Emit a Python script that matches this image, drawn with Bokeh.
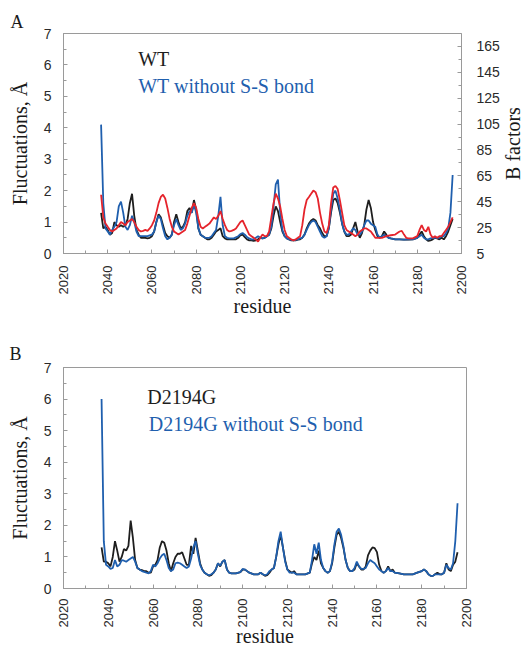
import math
from bokeh.plotting import figure
from bokeh.models import (Range1d, LinearAxis, FixedTicker, SingleIntervalTicker, Label)
from bokeh.layouts import row
from bokeh.embed import file_html
from bokeh.resources import INLINE

# ---------------- Panel A data ----------------
wt_res = [2037,2038,2039,2040,2041,2042,2043,2044,2045,2046,2047,2048,2049,2050,2051,2052,2053,2054,2055,2056,
          2057,2058,2059,2060,2061,2062,2063,2064,2065,2066,2067,2068,2069,2070,2071,2072,2073,2074,2075,2076,
          2077,2078,2079,2080,2081,2082,2083,2084,2085,2086,2087,2088,2089,2090,2091,2092,2093,2094,2095,2096,
          2097,2098,2099,2100,2101,2102,2103,2104,2105,2106,2107,2108,2109,2110,2111,2112,2113,2114,2115,2116,
          2117,2118,2119,2120,2121,2122,2123,2124,2125,2126,2127,2128,2129,2130,2131,2132,2133,2134,2135,2136,
          2137,2138,2139,2140,2141,2142,2143,2144,2145,2146,2147,2148,2149,2150,2151,2152,2153,2154,2155,2156,
          2157,2158,2159,2160,2161,2162,2163,2164,2165,2166,2167,2168,2170,2172,2174,2176,2178,2180,2181,2182,
          2183,2184,2185,2186,2187,2188,2189,2190,2191,2192,2193,2194,2195,2196]
wt_fluct = [1.29,0.8,0.85,0.75,0.6,0.65,1.0,0.9,0.85,0.9,0.85,0.9,1.1,1.6,1.9,1.2,0.75,0.6,0.5,0.5,
            0.5,0.48,0.5,0.55,0.7,1.0,1.25,1.15,0.9,0.65,0.55,0.5,0.6,1.0,1.25,1.0,0.8,0.85,1.0,1.35,
            1.45,1.3,1.7,1.4,0.8,0.6,0.55,0.5,0.45,0.45,0.5,0.6,0.7,0.75,0.8,0.55,0.48,0.45,0.45,0.45,
            0.45,0.45,0.5,0.58,0.6,0.52,0.45,0.42,0.42,0.4,0.42,0.45,0.5,0.48,0.5,0.55,0.6,0.8,1.2,1.5,
            1.35,1.0,0.7,0.55,0.48,0.45,0.42,0.42,0.42,0.44,0.45,0.5,0.6,0.8,0.95,1.05,1.1,1.05,0.9,0.8,
            0.65,0.55,0.55,0.8,1.3,1.7,1.75,1.6,1.3,0.95,0.7,0.55,0.55,0.6,0.8,1.0,0.7,0.5,0.65,0.9,
            1.4,1.7,1.45,1.0,0.75,0.55,0.5,0.55,0.7,0.6,0.5,0.48,0.45,0.45,0.44,0.44,0.45,0.5,0.6,0.7,
            0.55,0.45,0.4,0.42,0.45,0.5,0.48,0.45,0.5,0.45,0.55,0.7,0.9,1.1]

wtss_res = [2037,2038,2039,2040,2041,2042,2043,2044,2045,2046,2047,2048,2049,2050,2051,2052,2053,2054,2055,2056,
            2058,2060,2061,2062,2063,2064,2065,2066,2067,2068,2069,2070,2071,2072,2073,2074,2075,2076,2077,2078,
            2079,2080,2081,2082,2083,2084,2085,2086,2087,2088,2089,2090,2091,2092,2093,2094,2095,2097,2099,2100,
            2101,2102,2103,2104,2105,2106,2107,2108,2109,2110,2111,2112,2113,2114,2115,2116,2117,2118,2119,2120,
            2121,2122,2124,2126,2127,2128,2129,2130,2131,2132,2133,2134,2135,2136,2137,2138,2139,2140,2141,2142,
            2143,2144,2145,2146,2147,2148,2149,2150,2151,2152,2153,2154,2155,2156,2157,2158,2159,2160,2161,2162,
            2163,2164,2165,2166,2167,2168,2170,2172,2174,2176,2178,2180,2181,2182,2183,2184,2185,2186,2188,2190,
            2191,2192,2193,2194,2195,2196]
wtss_fluct = [4.1,1.6,0.8,0.7,0.6,0.75,0.85,1.0,1.5,1.65,1.3,0.85,0.75,0.9,1.2,1.0,0.7,0.55,0.55,0.55,
              0.55,0.6,0.7,1.0,1.2,1.1,0.8,0.55,0.45,0.5,0.6,0.9,1.1,0.9,0.75,0.8,0.95,1.2,1.35,1.3,
              1.55,1.3,0.8,0.6,0.55,0.5,0.5,0.5,0.55,0.65,0.75,1.2,1.8,0.9,0.55,0.5,0.48,0.48,0.55,0.62,
              0.65,0.6,0.52,0.48,0.45,0.45,0.5,0.55,0.5,0.48,0.5,0.55,0.6,0.85,1.5,2.2,2.35,1.3,0.75,0.55,
              0.48,0.45,0.42,0.45,0.48,0.5,0.6,0.75,0.9,1.0,1.05,1.0,0.85,0.7,0.55,0.5,0.55,0.8,1.4,1.9,
              2.0,1.75,1.4,0.95,0.7,0.6,0.6,0.7,0.8,0.75,0.6,0.6,0.7,0.9,1.05,1.05,0.95,0.9,0.85,0.6,
              0.5,0.55,0.6,0.55,0.5,0.48,0.45,0.45,0.44,0.45,0.45,0.5,0.55,0.6,0.5,0.45,0.45,0.48,0.5,0.5,
              0.55,0.55,0.65,0.8,1.3,2.5]

bf_res = [2037,2038,2039,2040,2041,2042,2043,2044,2045,2046,2047,2048,2049,2050,2051,2052,2053,2054,2055,2056,
          2057,2058,2059,2060,2061,2062,2063,2064,2065,2066,2067,2068,2069,2070,2071,2072,2073,2074,2075,2076,
          2077,2078,2079,2080,2081,2082,2083,2084,2085,2086,2087,2088,2089,2090,2091,2092,2093,2094,2095,2096,
          2097,2098,2099,2100,2101,2102,2103,2104,2105,2106,2107,2108,2109,2110,2111,2112,2113,2114,2115,2116,
          2117,2118,2119,2120,2121,2122,2123,2124,2125,2126,2127,2128,2129,2130,2131,2132,2133,2134,2135,2136,
          2137,2138,2139,2140,2141,2142,2143,2144,2145,2146,2147,2148,2149,2150,2151,2152,2153,2154,2155,2156,
          2157,2158,2159,2160,2161,2162,2164,2166,2168,2170,2171,2172,2173,2174,2175,2176,2178,2180,2181,2182,
          2183,2184,2185,2186,2187,2188,2189,2190,2191,2192,2193,2194,2195,2196]
bfactor = [50.4,32.9,28.1,25.6,23.2,22.0,23.2,24.4,26.9,29.3,28.1,26.9,29.3,30.5,31.7,29.3,25.6,23.2,22.0,22.5,
           23.2,22.5,24.4,26.9,30.5,36.6,43.9,48.7,50.4,47.5,40.2,31.7,25.6,22.0,20.8,19.6,20.8,22.0,23.2,28.1,
           34.1,40.2,43.9,40.2,31.7,25.6,24.4,25.6,26.9,28.1,30.5,32.9,31.7,34.1,37.8,31.7,26.9,23.2,22.0,22.5,
           23.2,24.4,26.9,29.3,30.5,26.9,23.2,19.6,18.4,17.1,15.9,14.2,17.1,19.6,18.4,18.4,22.0,32.9,43.9,51.2,
           47.5,41.4,31.7,23.2,18.4,17.1,15.9,15.2,15.9,17.1,18.4,26.9,39.0,46.3,48.7,51.2,53.6,52.4,47.5,36.6,
           28.1,22.0,20.8,26.9,43.9,56.0,57.2,54.8,46.3,36.6,26.9,23.2,22.0,20.8,19.6,18.4,19.6,22.0,23.2,24.4,
           24.4,23.2,22.0,19.6,17.1,17.1,17.1,18.4,19.1,19.6,20.8,22.0,22.5,19.6,17.1,16.7,16.7,18.4,23.2,26.9,
           23.2,22.0,25.6,19.6,17.1,18.4,17.1,18.4,18.4,20.8,23.2,25.6,29.3,32.9]

# ---------------- Panel B data ----------------
mut_res = [2037,2038,2039,2040,2041,2042,2043,2044,2045,2046,2047,2048,2049,2050,2051,2052,2053,2054,2055,2056,
           2057,2058,2059,2060,2061,2062,2063,2064,2065,2066,2067,2068,2069,2070,2071,2072,2073,2074,2075,2076,
           2077,2078,2079,2080,2081,2082,2083,2084,2085,2086,2087,2088,2089,2090,2091,2092,2093,2094,2095,2097,
           2099,2100,2101,2102,2103,2105,2107,2108,2109,2110,2111,2112,2113,2114,2115,2116,2117,2118,2119,2120,
           2121,2122,2123,2124,2126,2128,2130,2131,2132,2133,2134,2135,2136,2137,2138,2139,2140,2141,2142,2143,
           2144,2145,2146,2147,2148,2149,2150,2151,2152,2153,2154,2155,2156,2157,2158,2159,2160,2161,2162,2163,
           2164,2165,2166,2167,2168,2170,2172,2174,2176,2178,2180,2181,2182,2183,2184,2185,2186,2187,2188,2189,
           2190,2191,2192,2193,2194,2195,2196]
mut_fluct = [1.3,0.85,0.85,0.8,0.7,1.0,1.5,1.2,0.85,1.0,1.25,1.2,1.35,2.15,1.6,0.9,0.65,0.6,0.58,0.55,
             0.55,0.5,0.5,0.7,0.75,0.9,1.3,1.5,1.45,1.2,0.8,0.55,0.8,1.0,1.1,1.1,1.15,0.95,0.75,0.75,
             1.35,1.1,1.6,1.2,0.8,0.6,0.5,0.45,0.4,0.42,0.5,0.6,0.8,0.7,0.85,0.9,0.6,0.5,0.48,0.48,
             0.52,0.6,0.6,0.55,0.5,0.45,0.45,0.5,0.45,0.4,0.42,0.5,0.6,0.65,1.0,1.4,1.7,1.3,0.9,0.6,
             0.55,0.5,0.55,0.45,0.45,0.45,0.5,0.8,1.0,0.9,1.2,0.8,0.65,0.55,0.5,0.55,0.8,1.3,1.7,1.8,
             1.6,1.3,0.9,0.65,0.55,0.55,0.6,0.8,0.7,0.6,0.6,0.7,1.05,1.2,1.3,1.28,1.15,0.75,0.55,0.5,
             0.55,0.7,0.55,0.6,0.5,0.48,0.45,0.45,0.45,0.5,0.55,0.6,0.55,0.45,0.4,0.4,0.45,0.5,0.45,0.45,
             0.5,0.8,0.6,0.55,0.75,0.85,1.15]

mutss_res = [2037,2038,2039,2040,2041,2042,2043,2044,2045,2046,2047,2048,2049,2050,2051,2052,2053,2054,2055,2057,
             2058,2059,2060,2061,2062,2063,2064,2065,2066,2067,2068,2069,2070,2071,2072,2073,2074,2075,2076,2077,
             2078,2079,2080,2081,2082,2083,2084,2085,2086,2087,2088,2089,2090,2091,2092,2093,2094,2095,2097,2099,
             2100,2101,2102,2103,2105,2107,2108,2109,2110,2111,2112,2113,2114,2115,2116,2117,2118,2119,2120,2121,
             2122,2123,2124,2126,2128,2130,2131,2132,2133,2134,2135,2136,2137,2138,2139,2140,2141,2142,2143,2144,
             2145,2146,2147,2148,2149,2150,2151,2152,2153,2154,2155,2156,2157,2158,2159,2160,2161,2162,2163,2164,
             2165,2166,2167,2168,2170,2172,2174,2176,2178,2180,2181,2182,2183,2184,2185,2186,2187,2188,2189,2190,
             2191,2192,2193,2194,2195,2196]
mutss_fluct = [6.0,1.5,0.75,0.7,0.62,0.65,0.9,0.7,0.75,0.9,0.88,0.85,0.9,0.95,1.0,0.85,0.65,0.6,0.55,0.5,
               0.48,0.55,0.75,0.7,0.8,0.95,1.05,1.1,0.9,0.65,0.55,0.6,0.8,0.82,0.8,0.75,0.7,0.65,0.7,0.95,
               1.3,1.5,1.1,0.75,0.6,0.5,0.45,0.42,0.45,0.5,0.6,0.8,0.72,0.85,0.9,0.6,0.5,0.48,0.48,0.52,
               0.62,0.6,0.55,0.5,0.45,0.45,0.5,0.45,0.42,0.45,0.55,0.6,0.65,1.0,1.5,1.8,1.3,0.85,0.6,0.5,
               0.5,0.5,0.45,0.45,0.45,0.5,0.9,1.4,1.1,1.45,0.9,0.65,0.55,0.5,0.55,0.85,1.4,1.8,1.9,1.7,
               1.35,0.9,0.65,0.55,0.55,0.65,0.85,0.7,0.62,0.62,0.65,0.8,0.9,0.85,0.8,0.7,0.6,0.55,0.5,0.55,
               0.65,0.55,0.55,0.5,0.48,0.45,0.45,0.45,0.5,0.55,0.6,0.55,0.45,0.4,0.4,0.45,0.45,0.45,0.45,0.5,
               0.75,0.65,0.6,0.8,1.5,2.7]

b_ticks = [5, 25, 45, 65, 85, 105, 125, 145, 165]
b_minor = [15, 35, 55, 75, 95, 115, 135, 155]

BLACK = "#1e1e1e"
BLUE = "#1f5fae"
RED = "#e5242c"
GREY = "#9a9a9a"
SERIF = "Liberation Serif"
SANS = "Liberation Sans"


def style_axis(ax, label_size="14px"):
    ax.axis_line_color = GREY
    ax.major_tick_line_color = GREY
    ax.minor_tick_line_color = GREY
    ax.major_tick_in = 4
    ax.major_tick_out = 0
    ax.minor_tick_in = 3
    ax.minor_tick_out = 0
    ax.major_label_text_font = SANS
    ax.major_label_text_font_size = label_size
    ax.major_label_text_color = "#2a2a2a"
    ax.axis_label_text_font = SERIF
    ax.axis_label_text_font_size = "20px"
    ax.axis_label_text_font_style = "normal"
    ax.axis_label_text_color = "#1a1a1a"


def make_fig(width, height, mb_left, mb_right, mb_top, mb_bottom, letter, letter_offset,
             letter_standoff, xlab_standoff, xtitle_standoff):
    p = figure(width=width, height=height, x_range=Range1d(2020, 2200), y_range=Range1d(0, 7),
               output_backend="svg", toolbar_location=None,
               min_border_left=mb_left, min_border_right=mb_right,
               min_border_top=mb_top, min_border_bottom=mb_bottom)
    p.grid.visible = False
    p.outline_line_color = GREY
    p.outline_line_width = 1
    p.background_fill_color = "white"
    p.border_fill_color = "white"
    p.title.text = letter
    p.title.align = "left"
    p.title.offset = letter_offset
    p.title.standoff = letter_standoff
    p.title.text_font = SERIF
    p.title.text_font_size = "18px"
    p.title.text_font_style = "normal"
    p.title.text_color = "#1a1a1a"
    p.xaxis.ticker = SingleIntervalTicker(interval=20, num_minor_ticks=2)
    p.yaxis.ticker = SingleIntervalTicker(interval=1, num_minor_ticks=2)
    for ax in p.xaxis:
        style_axis(ax, "13px")
        ax.major_label_orientation = math.pi / 2
        ax.major_label_standoff = xlab_standoff
        ax.axis_label = "residue"
        ax.axis_label_standoff = xtitle_standoff
    for ax in p.yaxis:
        style_axis(ax, "14px")
        ax.major_label_standoff = 12
        ax.axis_label = "Fluctuations, Å"
        ax.axis_label_standoff = 10
    return p


# ---------------- Panel A ----------------
pA = make_fig(502, 320, 63, 40, 33, 66, "A", -53, 4, 12, -2)
pA.extra_y_ranges = {"bf": Range1d(5, 175)}
rax = LinearAxis(y_range_name="bf", ticker=FixedTicker(ticks=b_ticks, minor_ticks=b_minor))
style_axis(rax, "14px")
rax.major_label_standoff = 15
pA.add_layout(rax, "right")

pA.line(wt_res, wt_fluct, line_color=BLACK, line_width=1.8)
pA.line(wtss_res, wtss_fluct, line_color=BLUE, line_width=1.8)
pA.line(bf_res, bfactor, line_color=RED, line_width=1.8, y_range_name="bf")

pA.add_layout(Label(x=2053.8, y=6.2, text="WT", text_font=SERIF, text_font_size="20px",
                    text_color=BLACK, text_baseline="middle", text_align="left"))
pA.add_layout(Label(x=2053.8, y=5.32, text="WT without S-S bond", text_font=SERIF,
                    text_font_size="20px", text_color=BLUE, text_baseline="middle", text_align="left"))

# right-hand axis title, drawn in a narrow companion figure
pLab = figure(width=20, height=320, x_range=Range1d(0, 1), y_range=Range1d(0, 1),
              x_axis_type=None, y_axis_type=None, output_backend="svg", toolbar_location=None,
              min_border_left=0, min_border_right=0, min_border_top=33, min_border_bottom=66)
pLab.grid.visible = False
pLab.outline_line_color = None
pLab.add_layout(Label(x=0.5, y=0.5, angle=math.pi / 2, text="B factors", text_font=SERIF,
                      text_font_size="20px", text_color="#1a1a1a", text_align="center",
                      text_baseline="middle"))

# ---------------- Panel B ----------------
pB = make_fig(476, 330, 63, 10, 47, 62, "B", -54, 8, 10, -5)
pB.line(mut_res, mut_fluct, line_color=BLACK, line_width=1.8)
pB.line(mutss_res, mutss_fluct, line_color=BLUE, line_width=1.8)

pB.add_layout(Label(x=2057.4, y=6.07, text="D2194G", text_font=SERIF, text_font_size="20px",
                    text_color=BLACK, text_baseline="middle", text_align="left"))
pB.add_layout(Label(x=2058.1, y=5.2, text="D2194G without S-S bond", text_font=SERIF,
                    text_font_size="20px", text_color=BLUE, text_baseline="middle", text_align="left"))

topA = row(pA, pLab)
open("out.html", "w").write(file_html([topA, pB], INLINE))
